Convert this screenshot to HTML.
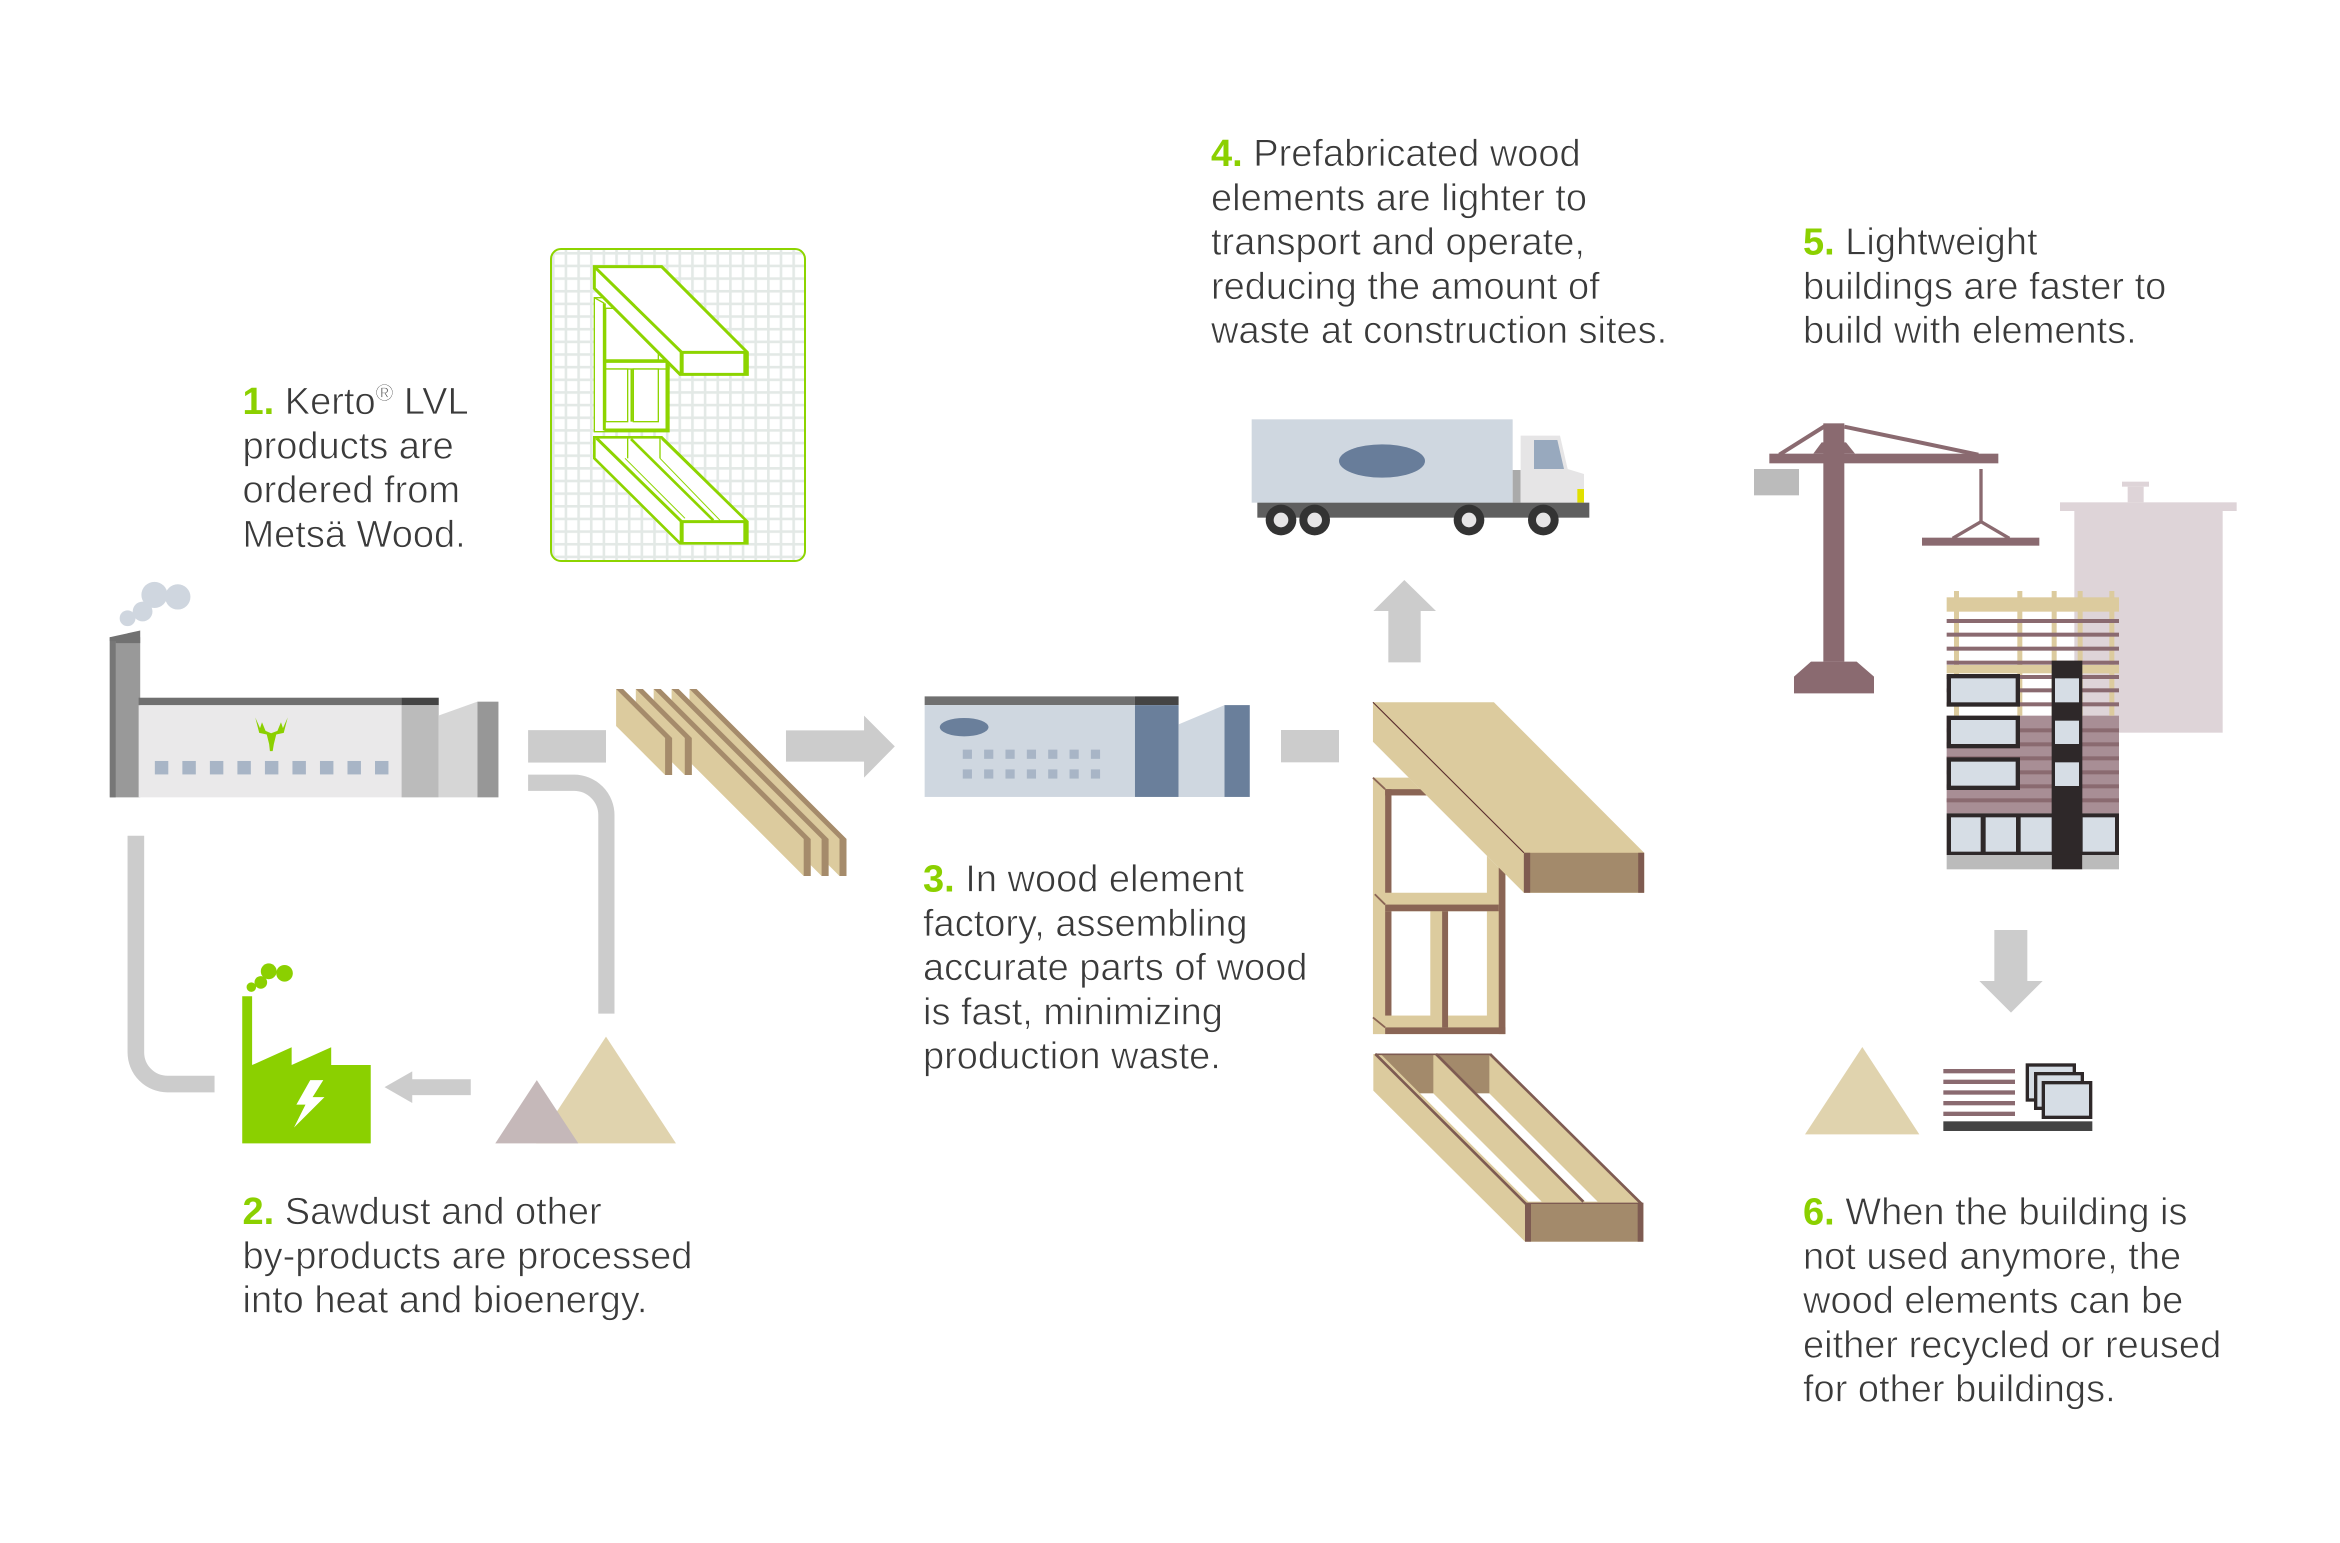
<!DOCTYPE html>
<html>
<head>
<meta charset="utf-8">
<style>
html,body{margin:0;padding:0;background:#fff;}
svg{display:block;}
text{font-family:"Liberation Sans",Arial,sans-serif;font-size:38px;fill:#3a3a3a;stroke:#fff;stroke-width:0.7px;}
.n{fill:#8bd000;font-weight:bold;stroke:none;}
</style>
</head>
<body>
<svg width="2340" height="1543" viewBox="0 0 2340 1543" xmlns="http://www.w3.org/2000/svg">
<defs>
<pattern id="grid" patternUnits="userSpaceOnUse" x="552" y="252" width="12.65" height="12.65">
<rect x="0" y="0" width="12.65" height="12.65" fill="#fff"/>
<rect x="0" y="0" width="2.6" height="12.65" fill="#e3e9e6"/>
<rect x="0" y="0" width="12.65" height="2.6" fill="#e3e9e6"/>
</pattern>
</defs>
<rect width="2340" height="1543" fill="#fff"/>

<!-- ===== LEFT AREA (zoom3 coords) ===== -->
<g transform="translate(90,570) scale(0.3954)">
  <circle cx="95" cy="122" r="20" fill="#cfd6df"/>
  <circle cx="133" cy="105" r="25" fill="#cfd6df"/>
  <circle cx="163" cy="63" r="33" fill="#cfd6df"/>
  <circle cx="222" cy="68" r="32" fill="#cfd6df"/>
  <rect x="50" y="170" width="77" height="405" fill="#999"/>
  <rect x="50" y="170" width="15" height="405" fill="#777"/>
  <polygon points="50,170 127,153 127,185 65,185 65,180 50,180" fill="#717171"/>
  <rect x="123" y="323" width="665" height="19" fill="#707070"/>
  <rect x="788" y="323" width="94" height="19" fill="#444"/>
  <rect x="123" y="342" width="665" height="233" fill="#eae9ea"/>
  <rect x="788" y="342" width="94" height="233" fill="#bbb"/>
  <polygon points="882,368 980,333 980,575 882,575" fill="#d6d6d6"/>
  <rect x="980" y="333" width="53" height="242" fill="#979797"/>
  <g fill="#a8b5c6">
    <rect x="164" y="483" width="34" height="34"/>
    <rect x="233.6" y="483" width="34" height="34"/>
    <rect x="303.2" y="483" width="34" height="34"/>
    <rect x="372.8" y="483" width="34" height="34"/>
    <rect x="442.4" y="483" width="34" height="34"/>
    <rect x="512" y="483" width="34" height="34"/>
    <rect x="581.6" y="483" width="34" height="34"/>
    <rect x="651.2" y="483" width="34" height="34"/>
    <rect x="720.8" y="483" width="34" height="34"/>
  </g>
  <path d="M418,373 L428,412 L447,416 L453,440 L455,458 L462,458 L465,440 L471,416 L490,412 L500,373 L488,400 L483,385 L474,407 L458,413 L444,407 L435,385 L430,400 Z" fill="#8bd000"/>
  <rect x="1108" y="405" width="197" height="82" fill="#ccc"/>
  <path d="M1108,538 H1224 A82,82 0 0 1 1306,620 V1122" fill="none" stroke="#ccc" stroke-width="41"/>
  <path d="M116,672 V1220 A80,80 0 0 0 196,1300 H315" fill="none" stroke="#ccc" stroke-width="42"/>
  <polygon points="745,1308 815,1268 815,1288 963,1288 963,1328 815,1328 815,1348" fill="#ccc"/>
  <circle cx="408" cy="1055" r="12" fill="#8bd000"/>
  <circle cx="432" cy="1043" r="16" fill="#8bd000"/>
  <circle cx="452" cy="1015" r="20" fill="#8bd000"/>
  <circle cx="492" cy="1020" r="21" fill="#8bd000"/>
  <polygon points="385,1078 410,1078 410,1252 510,1207 510,1252 610,1207 610,1252 710,1252 710,1450 385,1450" fill="#8bd000"/>
  <polygon points="557,1290 590,1290 563,1333 593,1333 516,1410 545,1352 522,1352" fill="#fff"/>
  <polygon points="1128,1450 1305,1180 1482,1450" fill="#e0d3ae"/>
  <polygon points="1025,1450 1130,1290 1235,1450" fill="#c5b8b9"/>
</g>

<!-- ===== LUMBER ===== -->
<g>
  <polygon points="689.5,689 696.5,689 846.5,839 846.5,876 839.5,876 689.5,726" fill="#dccb9e"/>
  <polygon points="689.5,689 696.5,689 846.5,839 839.5,839" fill="#a58b6b"/>
  <rect x="839.5" y="839" width="7" height="37" fill="#a58b6b"/>
  <polygon points="671.6,689 678.6,689 828.6,839 828.6,876 821.6,876 671.6,726" fill="#dccb9e"/>
  <polygon points="671.6,689 678.6,689 828.6,839 821.6,839" fill="#a58b6b"/>
  <rect x="821.6" y="839" width="7" height="37" fill="#a58b6b"/>
  <polygon points="653.7,689 660.7,689 810.7,839 810.7,876 803.7,876 653.7,726" fill="#dccb9e"/>
  <polygon points="653.7,689 660.7,689 810.7,839 803.7,839" fill="#a58b6b"/>
  <rect x="803.7" y="839" width="7" height="37" fill="#a58b6b"/>
  <polygon points="635.8,689 642.8,689 691.8,738 691.8,775 684.8,775 635.8,726" fill="#dccb9e"/>
  <polygon points="635.8,689 642.8,689 691.8,738 684.8,738" fill="#a58b6b"/>
  <rect x="684.8" y="738" width="7" height="37" fill="#a58b6b"/>
  <polygon points="616.1,689 623.1,689 672.1,738 672.1,775 665.1,775 616.1,726" fill="#dccb9e"/>
  <polygon points="616.1,689 623.1,689 672.1,738 665.1,738" fill="#a58b6b"/>
  <rect x="665.1" y="738" width="7" height="37" fill="#a58b6b"/>
</g>

<!-- ===== MIDDLE (zoom4 coords) ===== -->
<g transform="translate(600,650) scale(0.4592)">
  <polygon points="405,175 575,175 575,143 642,210 575,278 575,243 405,243" fill="#ccc"/>
  <rect x="707" y="101" width="458" height="19" fill="#707070"/>
  <rect x="1165" y="101" width="95" height="19" fill="#444"/>
  <rect x="707" y="120" width="458" height="200" fill="#cfd7e0"/>
  <rect x="1165" y="120" width="95" height="200" fill="#6a7f9b"/>
  <polygon points="1260,162 1360,120 1360,320 1260,320" fill="#cfd7e0"/>
  <rect x="1360" y="120" width="55" height="200" fill="#6a7f9b"/>
  <ellipse cx="793" cy="168" rx="53" ry="20" fill="#6a7f9b"/>
  <g fill="#a8b5c6">
    <rect x="790" y="217" width="20" height="20"/><rect x="836.5" y="217" width="20" height="20"/><rect x="883" y="217" width="20" height="20"/><rect x="929.5" y="217" width="20" height="20"/><rect x="976" y="217" width="20" height="20"/><rect x="1022.5" y="217" width="20" height="20"/><rect x="1069" y="217" width="20" height="20"/>
    <rect x="790" y="260" width="20" height="20"/><rect x="836.5" y="260" width="20" height="20"/><rect x="883" y="260" width="20" height="20"/><rect x="929.5" y="260" width="20" height="20"/><rect x="976" y="260" width="20" height="20"/><rect x="1022.5" y="260" width="20" height="20"/><rect x="1069" y="260" width="20" height="20"/>
  </g>
</g>

<!-- ===== TRUCK (zoom5 coords) ===== -->
<g transform="translate(1230,400) scale(0.33333)">
  <rect x="65" y="58" width="783" height="250" fill="#cfd7e0"/>
  <ellipse cx="456" cy="183" rx="129" ry="50" fill="#687d9a"/>
  <rect x="848" y="210" width="24" height="98" fill="#aaa"/>
  <polygon points="872,107 990,107 1013,207 1062,222 1062,308 872,308" fill="#e6e5e6"/>
  <polygon points="912,120 982,120 1002,207 912,207" fill="#98a9be"/>
  <rect x="1042" y="267" width="20" height="41" fill="#e1e000"/>
  <rect x="82" y="308" width="996" height="45" fill="#5f5f5f"/>
  <g fill="#333"><circle cx="153" cy="360" r="46"/><circle cx="254" cy="360" r="46"/><circle cx="717" cy="360" r="46"/><circle cx="940" cy="360" r="46"/></g>
  <g fill="#e6e5e6"><circle cx="153" cy="360" r="22"/><circle cx="254" cy="360" r="22"/><circle cx="717" cy="360" r="22"/><circle cx="940" cy="360" r="22"/></g>
  <polygon points="475,787 475,633 430,633 523,540 618,633 572,633 572,787" fill="#ccc"/>
  <rect x="153" y="990" width="174" height="97" fill="#ccc"/>
</g>

<!-- ===== WOOD ELEMENTS (zoom6 coords) ===== -->
<g transform="translate(1360,690) scale(0.36996)">
  <polygon points="35,237 132,237 393,498 393,930 35,930" fill="#dccb9e"/>
  <rect x="85" y="285" width="258" height="263" fill="#fff"/>
  <rect x="85" y="598" width="105" height="282" fill="#fff"/>
  <rect x="238" y="598" width="105" height="282" fill="#fff"/>
  <g fill="#8a6555">
    <rect x="68" y="268" width="112" height="17"/>
    <rect x="68" y="268" width="17" height="280"/>
    <rect x="68" y="580" width="307" height="18"/>
    <rect x="68" y="598" width="17" height="282"/>
    <rect x="222" y="598" width="16" height="314"/>
    <rect x="375" y="480" width="18" height="450"/>
    <rect x="68" y="912" width="325" height="18"/>
  </g>
  <g stroke="#8a6555" stroke-width="5">
    <line x1="35" y1="237" x2="68" y2="268"/>
    <line x1="40" y1="552" x2="68" y2="580"/>
    <line x1="35" y1="885" x2="68" y2="912"/>
  </g>
  <polygon points="35,33 362,33 768,440 768,548 443,548 35,140" fill="#dccb9e"/>
  <rect x="443" y="440" width="325" height="108" fill="#a38a6b"/>
  <rect x="443" y="440" width="17" height="108" fill="#7f5b50"/>
  <rect x="752" y="440" width="16" height="108" fill="#7f5b50"/>
  <line x1="35" y1="33" x2="443" y2="440" stroke="#5a2e2e" stroke-width="3"/>
</g>

<!-- ===== CASSETTE (zoom9 coords) ===== -->
<g transform="translate(1370,1050) scale(0.33333)">
  <polygon points="10,12 360,12 820,462 820,575 465,575 10,122" fill="#dccb9e"/>
  <polygon points="35,15 190,15 190,130 150,130" fill="#a38a6b"/>
  <polygon points="205,15 358,15 358,130 320,130" fill="#a38a6b"/>
  <polygon points="150,130 190,130 515,455 475,455" fill="#fff"/>
  <polygon points="320,130 358,130 683,455 645,455" fill="#fff"/>
  <g stroke="#7e5b52" stroke-width="8" fill="none">
    <line x1="16" y1="12" x2="468" y2="462"/>
    <line x1="198" y1="12" x2="640" y2="455"/>
    <line x1="360" y1="12" x2="815" y2="462"/>
    <line x1="15" y1="13" x2="360" y2="13" stroke-width="5"/>
  </g>
  <rect x="465" y="460" width="355" height="115" fill="#a38a6b"/>
  <rect x="465" y="460" width="18" height="115" fill="#7e5b52"/>
  <rect x="803" y="460" width="17" height="115" fill="#7e5b52"/>
  <line x1="465" y1="460" x2="820" y2="460" stroke="#7e5b52" stroke-width="4"/>
</g>

<!-- ===== KERTO ICON BOX ===== -->
<rect x="551" y="249" width="254" height="312" rx="10" ry="10" fill="url(#grid)" stroke="#8dd400" stroke-width="2"/>
<g transform="translate(545,245) scale(0.33333)" stroke="#8dd400" stroke-linejoin="miter">
  <polygon points="148,158 190,158 372,340 372,560 148,560" fill="#fff" stroke-width="4"/>
  <polygon points="182,190 215,190 340,315 340,345 182,345" fill="#fff" stroke-width="4"/>
  <rect x="182" y="345" width="190" height="27" fill="#fff" stroke-width="4"/>
  <rect x="182" y="372" width="66" height="158" fill="#fff" stroke-width="4"/>
  <rect x="265" y="372" width="75" height="158" fill="#fff" stroke-width="4"/>
  <line x1="178" y1="175" x2="178" y2="556" stroke-width="9"/>
  <line x1="178" y1="555" x2="372" y2="555" stroke-width="9"/>
  <line x1="366" y1="345" x2="366" y2="560" stroke-width="9"/>
  <line x1="260" y1="372" x2="260" y2="530" stroke-width="7"/>
  <line x1="178" y1="350" x2="372" y2="350" stroke-width="7"/>
  <line x1="148" y1="158" x2="178" y2="175" stroke-width="4"/>
  <polygon points="148,65 350,65 607,322 607,388 405,388 148,130" fill="#fff" stroke-width="9"/>
  <line x1="148" y1="65" x2="410" y2="322" stroke-width="9"/>
  <line x1="405" y1="322" x2="607" y2="322" stroke-width="9"/>
  <line x1="410" y1="322" x2="410" y2="388" stroke-width="12"/>
  <line x1="600" y1="322" x2="600" y2="388" stroke-width="10"/>
  <polygon points="148,577 350,577 607,830 607,895 405,895 148,640" fill="#fff" stroke-width="8"/>
  <line x1="155" y1="580" x2="410" y2="830" stroke-width="9"/>
  <line x1="405" y1="830" x2="607" y2="830" stroke-width="9"/>
  <line x1="410" y1="830" x2="410" y2="895" stroke-width="12"/>
  <line x1="600" y1="830" x2="600" y2="895" stroke-width="10"/>
  <line x1="248" y1="580" x2="248" y2="640" stroke-width="4"/>
  <line x1="345" y1="580" x2="345" y2="640" stroke-width="4"/>
  <line x1="258" y1="582" x2="505" y2="826" stroke-width="8"/>
  <line x1="240" y1="640" x2="420" y2="820" stroke-width="3"/>
  <line x1="350" y1="582" x2="600" y2="826" stroke-width="4"/>
  <line x1="345" y1="640" x2="525" y2="826" stroke-width="3"/>
</g>

<!-- ===== BUILDING (zoom7 coords) ===== -->
<g transform="translate(1740,410) scale(0.33333)">
  <rect x="1146" y="215" width="81" height="15" fill="#ded4d8"/>
  <rect x="1163" y="230" width="48" height="47" fill="#ded4d8"/>
  <rect x="960" y="277" width="530" height="26" fill="#ded4d8"/>
  <rect x="1003" y="303" width="445" height="665" fill="#ded4d8"/>
  <g fill="#8a6a70">
    <rect x="250" y="40" width="63" height="715"/>
    <rect x="88" y="131" width="687" height="29"/>
    <polygon points="220,131 245,97 318,97 345,131"/>
    <rect x="718" y="177" width="10" height="158"/>
    <rect x="546" y="383" width="352" height="24"/>
    <polygon points="213,755 350,755 402,800 402,850 162,850 162,800"/>
  </g>
  <g stroke="#8a6a70" stroke-width="12">
    <line x1="255" y1="48" x2="118" y2="134"/>
    <line x1="313" y1="50" x2="715" y2="134"/>
    <line x1="723" y1="335" x2="638" y2="385" stroke-width="10"/>
    <line x1="723" y1="335" x2="808" y2="385" stroke-width="10"/>
  </g>
  <rect x="42" y="177" width="135" height="79" fill="#bbb"/>
  <rect x="620" y="917" width="517" height="293" fill="#a88e95"/>
  <g fill="#8a6a70">
    <rect x="620" y="955" width="517" height="12"/>
    <rect x="620" y="997" width="517" height="12"/>
    <rect x="620" y="1039" width="517" height="12"/>
    <rect x="620" y="1081" width="517" height="12"/>
    <rect x="620" y="1123" width="517" height="12"/>
    <rect x="620" y="1165" width="517" height="12"/>
  </g>
  <g fill="#dccb9e">
    <rect x="642" y="543" width="15" height="374"/>
    <rect x="832" y="543" width="15" height="374"/>
    <rect x="935" y="543" width="15" height="374"/>
    <rect x="1013" y="543" width="15" height="374"/>
    <rect x="1108" y="543" width="15" height="374"/>
    <rect x="620" y="562" width="517" height="43"/>
    <rect x="620" y="765" width="517" height="25"/>
  </g>
  <g fill="#8a6a70">
    <rect x="620" y="627" width="517" height="12"/>
    <rect x="620" y="668" width="517" height="12"/>
    <rect x="620" y="710" width="517" height="12"/>
    <rect x="620" y="752" width="517" height="12"/>
    <rect x="620" y="795" width="517" height="12"/>
    <rect x="620" y="835" width="517" height="12"/>
    <rect x="620" y="877" width="517" height="12"/>
  </g>
  <g fill="#2e2829">
    <rect x="620" y="792" width="220" height="98"/>
    <rect x="620" y="917" width="220" height="98"/>
    <rect x="620" y="1042" width="220" height="98"/>
    <rect x="935" y="752" width="92" height="626"/>
    <rect x="620" y="1210" width="517" height="125"/>
  </g>
  <g fill="#d6dde5">
    <rect x="633" y="805" width="194" height="72"/>
    <rect x="633" y="930" width="194" height="72"/>
    <rect x="633" y="1055" width="194" height="72"/>
    <rect x="945" y="805" width="72" height="72"/>
    <rect x="945" y="932" width="72" height="70"/>
    <rect x="945" y="1057" width="72" height="71"/>
    <rect x="633" y="1222" width="89" height="103"/>
    <rect x="737" y="1222" width="91" height="103"/>
    <rect x="842" y="1222" width="93" height="103"/>
    <rect x="1028" y="1222" width="97" height="103"/>
  </g>
  <rect x="620" y="1335" width="315" height="43" fill="#bbb"/>
  <rect x="1027" y="1335" width="110" height="43" fill="#bbb"/>
</g>

<!-- ===== RECYCLE (zoom8 coords) ===== -->
<g transform="translate(1780,920) scale(0.33333)">
  <polygon points="643,30 742,30 742,183 788,183 693,278 598,183 643,183" fill="#ccc"/>
  <polygon points="75,643 247,381 418,643" fill="#e0d3ae"/>
  <g fill="#8a6a70">
    <rect x="490" y="447" width="215" height="13"/>
    <rect x="490" y="479" width="215" height="13"/>
    <rect x="490" y="511" width="215" height="13"/>
    <rect x="490" y="543" width="215" height="13"/>
    <rect x="490" y="575" width="215" height="13"/>
  </g>
  <rect x="490" y="604" width="447" height="29" fill="#444"/>
  <rect x="737" y="430" width="151" height="115" fill="#2e2829"/>
  <rect x="747" y="440" width="131" height="95" fill="#d6dde5"/>
  <rect x="762" y="456" width="150" height="114" fill="#2e2829"/>
  <rect x="772" y="466" width="130" height="94" fill="#d6dde5"/>
  <rect x="785" y="483" width="152" height="114" fill="#2e2829"/>
  <rect x="795" y="493" width="132" height="94" fill="#d6dde5"/>
</g>

<!-- ===== TEXT ===== -->
<text x="242.5" y="414"><tspan class="n">1.</tspan> Kerto<tspan font-size="24" dy="-13">®</tspan><tspan dy="13"> LVL</tspan></text>
<text x="242.5" y="458.3">products are</text>
<text x="242.5" y="502.6">ordered from</text>
<text x="242.5" y="546.9">Metsä Wood.</text>

<text x="242.5" y="1224"><tspan class="n">2.</tspan> Sawdust and other</text>
<text x="242.5" y="1268.3">by-products are processed</text>
<text x="242.5" y="1312.6">into heat and bioenergy.</text>

<text x="923" y="891.5"><tspan class="n">3.</tspan> In wood element</text>
<text x="923" y="935.8">factory, assembling</text>
<text x="923" y="980.1">accurate parts of wood</text>
<text x="923" y="1024.4">is fast, minimizing</text>
<text x="923" y="1068.7">production waste.</text>

<text x="1211" y="166"><tspan class="n">4.</tspan> Prefabricated wood</text>
<text x="1211" y="210.3">elements are lighter to</text>
<text x="1211" y="254.6">transport and operate,</text>
<text x="1211" y="298.9">reducing the amount of</text>
<text x="1211" y="343.2">waste at construction sites.</text>

<text x="1803" y="254.6"><tspan class="n">5.</tspan> Lightweight</text>
<text x="1803" y="298.9">buildings are faster to</text>
<text x="1803" y="343.2">build with elements.</text>

<text x="1803" y="1224.5"><tspan class="n">6.</tspan> When the building is</text>
<text x="1803" y="1268.8">not used anymore, the</text>
<text x="1803" y="1313.1">wood elements can be</text>
<text x="1803" y="1357.4">either recycled or reused</text>
<text x="1803" y="1401.7">for other buildings.</text>
</svg>
</body>
</html>
